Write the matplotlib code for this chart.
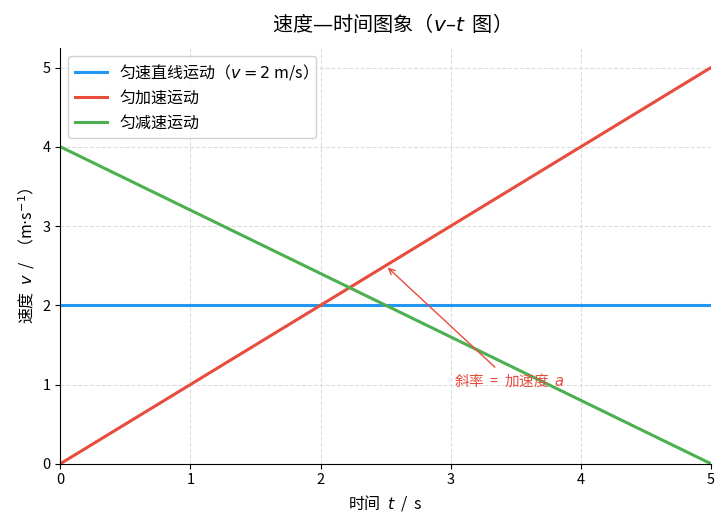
import matplotlib
matplotlib.use("Agg")
import matplotlib.pyplot as plt
import numpy as np

plt.rcParams['font.family'] = ['Noto Sans CJK SC', 'DejaVu Sans']
plt.rcParams['axes.unicode_minus'] = False

t = [0, 5]
v_uniform = [2, 2]
v_accel = [0, 5]
v_decel = [4, 0]

labels = ['匀速直线运动（$v = 2$ m/s）', '匀加速运动', '匀减速运动']
colors = ['#2196F3', '#E74C3C', '#4CAF50']

fig, ax = plt.subplots(figsize=(7.27, 5.30), dpi=100)
ax.plot(t, v_uniform, color=colors[0], lw=2.2, label=labels[0])
ax.plot(t, v_accel, color=colors[1], lw=2.2, label=labels[1])
ax.plot(t, v_decel, color=colors[2], lw=2.2, label=labels[2])

ax.set_xlim(0, 5)
ax.set_ylim(0, 5.25)
ax.set_xticks([0, 1, 2, 3, 4, 5])
ax.set_yticks([0, 1, 2, 3, 4, 5])
ax.grid(True, linestyle='--', color='#dddddd', linewidth=0.8)
ax.spines['top'].set_visible(False)
ax.spines['right'].set_visible(False)

ax.set_title('速度—时间图象（$v$–$t$  图）', fontsize=14.5, pad=12)
ax.set_xlabel('时间  $t$  /  s', fontsize=11.5)
ax.set_ylabel('速度  $v$  /  （m$\\cdot$s$^{-1}$）', fontsize=11.5)
ax.tick_params(labelsize=10.5)

ax.annotate('斜率  =  加速度  $a$', xy=(2.5, 2.5), xytext=(3.45, 1.05),
            ha='center', va='center', color='#E74C3C', fontsize=10.5,
            arrowprops=dict(arrowstyle='->', color='#E74C3C', lw=1.0))

ax.legend(loc='upper left', fontsize=11.5, framealpha=0.9)

fig.subplots_adjust(left=0.083, right=0.978, top=0.91, bottom=0.125)
fig.savefig('out.png', dpi=100)
